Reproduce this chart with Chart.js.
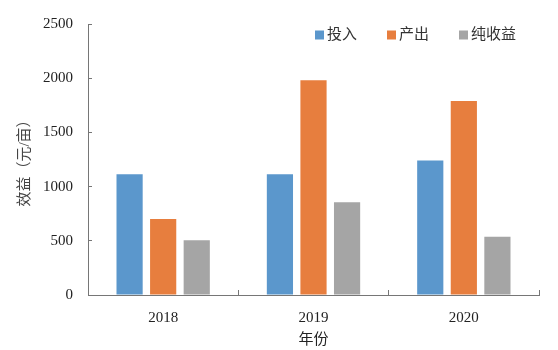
<!DOCTYPE html>
<html>
<head>
<meta charset="utf-8">
<script src="https://cdn.jsdelivr.net/npm/chart.js@4.4.1/dist/chart.umd.min.js"></script>
<style>
html, body { margin: 0; padding: 0; background: #fff; }
#wrap { width: 558px; height: 350px; }
</style>
</head>
<body>
<div id="wrap"><canvas id="chart"></canvas></div>
<script>
// 年份与三组数据（元/亩）
const years = ['2018', '2019', '2020'];
const touru = [1115, 1115, 1240];
const chanchu = [700, 1980, 1790];
const chunShouyi = [505, 855, 538];
const seriesNames = ['投入', '产出', '纯收益'];
const seriesColors = ['#5B97CC', '#E77E3E', '#A5A5A5'];
const yMax = 2500;
const yStep = 500;

const FONT = "'Liberation Serif', 'Noto Sans CJK SC', serif";
const AXIS = '#767676';

const datasets = [touru, chanchu, chunShouyi].map((vals, i) => ({
    label: seriesNames[i],
    data: vals,
    backgroundColor: seriesColors[i],
    borderWidth: 0,
    categoryPercentage: 0.67,
    barPercentage: 0.78
}));

// legend sits inside the plot area, top right (like the Excel original)
const insideLegend = {
    id: 'insideLegend',
    afterDraw(chart) {
        const ctx = chart.ctx;
        const area = chart.chartArea;
        let x = area.right - 224;
        const y = area.top + 11;
        ctx.save();
        ctx.font = '15px ' + FONT;
        ctx.textBaseline = 'middle';
        chart.data.datasets.forEach(ds => {
            ctx.fillStyle = ds.backgroundColor;
            ctx.fillRect(x, y - 4.5, 9, 9);
            ctx.fillStyle = '#333';
            ctx.fillText(ds.label, x + 12, y);
            x += 72;
        });
        ctx.restore();
    }
};

new Chart(document.getElementById('chart'), {
    type: 'bar',
    data: { labels: years, datasets: datasets },
    plugins: [insideLegend],
    options: {
        responsive: true,
        maintainAspectRatio: false,
        animation: false,
        layout: { padding: { left: 0, right: 19, top: 24, bottom: 0 } },
        plugins: {
            tooltip: { enabled: false },
            legend: { display: false }
        },
        scales: {
            x: {
                // small tick marks between the years, pointing up into the plot
                grid: { display: true, drawOnChartArea: false, offset: true, tickLength: -5,
                    color: c => (c.index === 0 || c.index === years.length) ? 'rgba(0,0,0,0)' : AXIS },
                border: { color: AXIS, width: 1 },
                ticks: { color: '#222', font: { family: FONT, size: 15 }, padding: 19 },
                title: { display: true, text: '年份', color: '#222', font: { family: FONT, size: 15 }, padding: { top: 0, bottom: 1 } },
                afterFit: s => { s.height = 55; }
            },
            y: {
                min: 0,
                max: yMax,
                grid: { display: true, drawOnChartArea: false, tickLength: -4, color: AXIS },
                border: { color: AXIS, width: 1 },
                ticks: { stepSize: yStep, color: '#222', font: { family: FONT, size: 15 }, padding: 19,
                    callback: v => String(v) },
                title: { display: true, text: '效益（元/亩）', color: '#444', font: { family: FONT, size: 15 }, padding: { top: 16, bottom: 0 } },
                afterFit: s => { s.width = 88; s.paddingTop = 0; s.paddingBottom = 0; }
            }
        }
    }
});
</script>
</body>
</html>
